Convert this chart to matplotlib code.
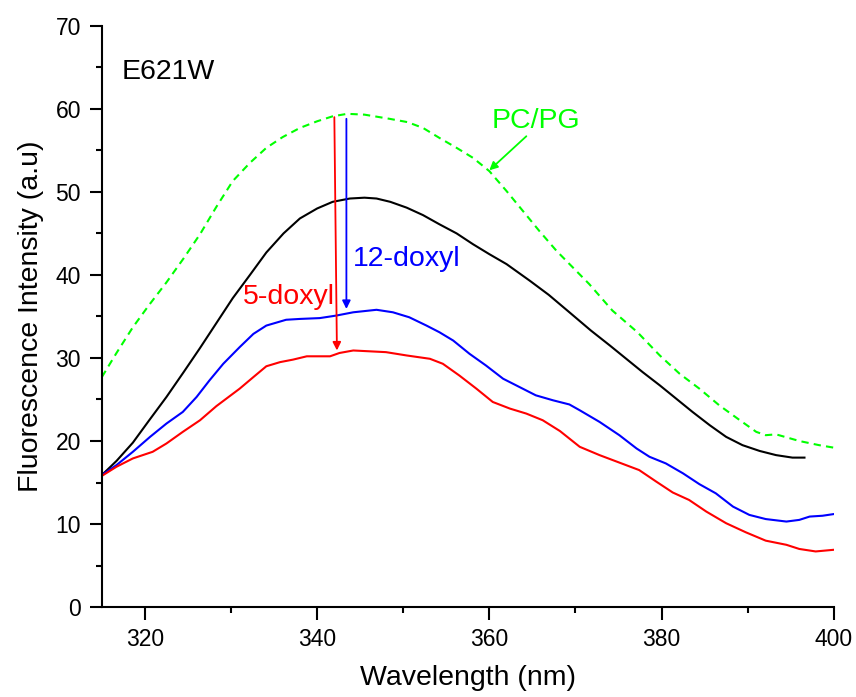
"""Fluorescence emission spectra of E621W with PC/PG and doxyl quenchers."""

import matplotlib

matplotlib.use("Agg")
import matplotlib.pyplot as plt
from matplotlib.ticker import MultipleLocator

plt.rcParams["font.family"] = ["Liberation Sans", "DejaVu Sans"]

pcpg_x = [315, 316.7, 318.6, 320.5, 322.5, 324.5, 326.4, 328.3, 330.2, 332.2,
          334.1, 336, 338, 340, 341.8, 343.5, 345.5, 348.4, 350.5, 352.3,
          354.2, 356.2, 358.1, 360, 362, 363.9, 365.8, 367.8, 369.7, 371.6,
          374.3, 377.2, 379.8, 382.1, 384.4, 386.7, 389.1, 391, 392.1, 393.3,
          396, 398.3, 400]
pcpg_y = [27.7, 30.6, 33.7, 36.4, 39.1, 42.0, 44.9, 48.2, 51.3, 53.5,
          55.3, 56.6, 57.7, 58.5, 59.1, 59.4, 59.3, 58.8, 58.4, 57.7,
          56.5, 55.3, 54.1, 52.5, 50.1, 47.7, 45.3, 42.9, 40.9, 38.9,
          35.7, 33.1, 30.3, 28.1, 26.3, 24.3, 22.5, 21.1, 20.7, 20.8,
          20.0, 19.5, 19.2]

lipid_x = [315, 316.7, 318.6, 320.5, 322.5, 324.5, 326.4, 328.3, 330.2, 332.2,
           334.1, 336.1, 338, 340, 341.8, 343.8, 345.5, 346.9, 348.5, 350.4,
           352.3, 354.2, 356.2, 358.1, 360, 362, 364.7, 366.9, 369.3, 371.8,
           374, 375.9, 377.8, 379.8, 381.7, 383.6, 385.6, 387.5, 389.4, 391.4,
           393.3, 395.2, 396.6]
lipid_y = [15.9, 17.6, 19.8, 22.5, 25.3, 28.3, 31.2, 34.2, 37.2, 40.0,
           42.7, 45.0, 46.8, 48.0, 48.8, 49.2, 49.3, 49.2, 48.8, 48.1,
           47.2, 46.1, 45.0, 43.7, 42.5, 41.3, 39.3, 37.6, 35.5, 33.3,
           31.5, 29.9, 28.3, 26.7, 25.1, 23.5, 21.9, 20.5, 19.5, 18.8,
           18.3, 18.0, 18.0]

doxyl12_x = [315, 316.7, 318.6, 320.6, 322.5, 324.4, 326, 327.5, 329.1, 331,
             332.6, 334.1, 336.4, 338, 340.3, 342.2, 344.2, 346.9, 348.8, 350.7,
             352.7, 354.2, 355.8, 357.7, 359.6, 361.6, 363.5, 365.4, 367.4,
             369.3, 370.5, 372.8, 375.1, 377.1, 378.6, 380.5, 382.5, 384.4,
             386.3, 388.3, 390.2, 392.1, 394.5, 396, 397.2, 398.7, 400]
doxyl12_y = [15.9, 17.1, 18.7, 20.5, 22.1, 23.5, 25.3, 27.3, 29.3, 31.3,
             32.9, 33.9, 34.6, 34.7, 34.8, 35.1, 35.5, 35.8, 35.5, 34.9,
             33.9, 33.1, 32.1, 30.5, 29.1, 27.5, 26.5, 25.5, 24.9,
             24.4, 23.7, 22.3, 20.7, 19.1, 18.1, 17.3, 16.1, 14.8,
             13.7, 12.1, 11.1, 10.6, 10.3, 10.5, 10.9, 11.0, 11.2]

doxyl5_x = [315, 316.7, 318.6, 320.9, 322.5, 324.4, 326.4, 328.3, 331, 332.6,
            334.1, 335.7, 337.2, 338.8, 340.3, 341.5, 342.6, 344.2, 346.1, 348,
            350.4, 353.1, 354.6, 356.5, 358.5, 360.4, 362.4, 364.3, 366.2,
            368.2, 370.5, 372.8, 375.1, 377.4, 379.4, 381.3, 383.2, 385.2,
            387.5, 389.8, 392.1, 394.5, 396, 397.9, 400]
doxyl5_y = [15.8, 16.9, 17.9, 18.7, 19.7, 21.1, 22.5, 24.2, 26.3, 27.7,
            29.0, 29.5, 29.8, 30.2, 30.2, 30.2, 30.6, 30.9, 30.8, 30.7,
            30.3, 29.9, 29.3, 27.9, 26.3, 24.7, 23.9, 23.3, 22.5,
            21.2, 19.3, 18.3, 17.4, 16.5, 15.1, 13.8, 12.9, 11.5,
            10.1, 9.0, 8.0, 7.5, 7.0, 6.7, 6.9]

fig = plt.figure(figsize=(8.56, 6.97), dpi=100)
ax = fig.add_axes([0.119, 0.129, 0.855, 0.834])

ax.plot(pcpg_x, pcpg_y, color="#00ff00", lw=1.5, linestyle=(0, (3.5, 2.5)))
ax.plot(lipid_x, lipid_y, color="black", lw=1.5)
ax.plot(doxyl12_x, doxyl12_y, color="#0000ff", lw=1.5)
ax.plot(doxyl5_x, doxyl5_y, color="#ff0000", lw=1.5)

arrow = dict(arrowstyle="-|>", lw=1.3, mutation_scale=12, shrinkA=0, shrinkB=0)
ax.annotate("", xy=(342.3, 30.9), xytext=(342.0, 59.0),
            arrowprops=dict(arrow, color="#ff0000"))
ax.annotate("", xy=(343.4, 35.9), xytext=(343.4, 58.8),
            arrowprops=dict(arrow, color="#0000ff"))
ax.annotate("", xy=(360.0, 52.6), xytext=(364.3, 56.7),
            arrowprops=dict(arrow, color="#00ff00"))

ax.text(317.3, 63.6, "E621W", fontsize=20.5, color="black")
ax.text(365.4, 57.7, "PC/PG", fontsize=20.5, color="#00ff00", ha="center")
ax.text(344.2, 41.1, "12-doxyl", fontsize=20.5, color="#0000ff")
ax.text(331.4, 36.5, "5-doxyl", fontsize=20.5, color="#ff0000")

ax.set_xlim(315, 400)
ax.set_ylim(0, 70)
ax.xaxis.set_major_locator(MultipleLocator(20))
ax.xaxis.set_minor_locator(MultipleLocator(10))
ax.yaxis.set_major_locator(MultipleLocator(10))
ax.yaxis.set_minor_locator(MultipleLocator(5))

for side in ("top", "right"):
    ax.spines[side].set_visible(False)
for side in ("left", "bottom"):
    ax.spines[side].set_linewidth(1.5)
ax.tick_params(which="major", direction="out", length=9, width=1.5, labelsize=16.5, pad=6)
ax.tick_params(which="minor", direction="out", length=4.5, width=1.5)

ax.set_xlabel("Wavelength (nm)", fontsize=20.5, labelpad=10)
ax.set_ylabel("Fluorescence Intensity (a.u)", fontsize=20.5, labelpad=8)

fig.savefig("out.png", dpi=100)
